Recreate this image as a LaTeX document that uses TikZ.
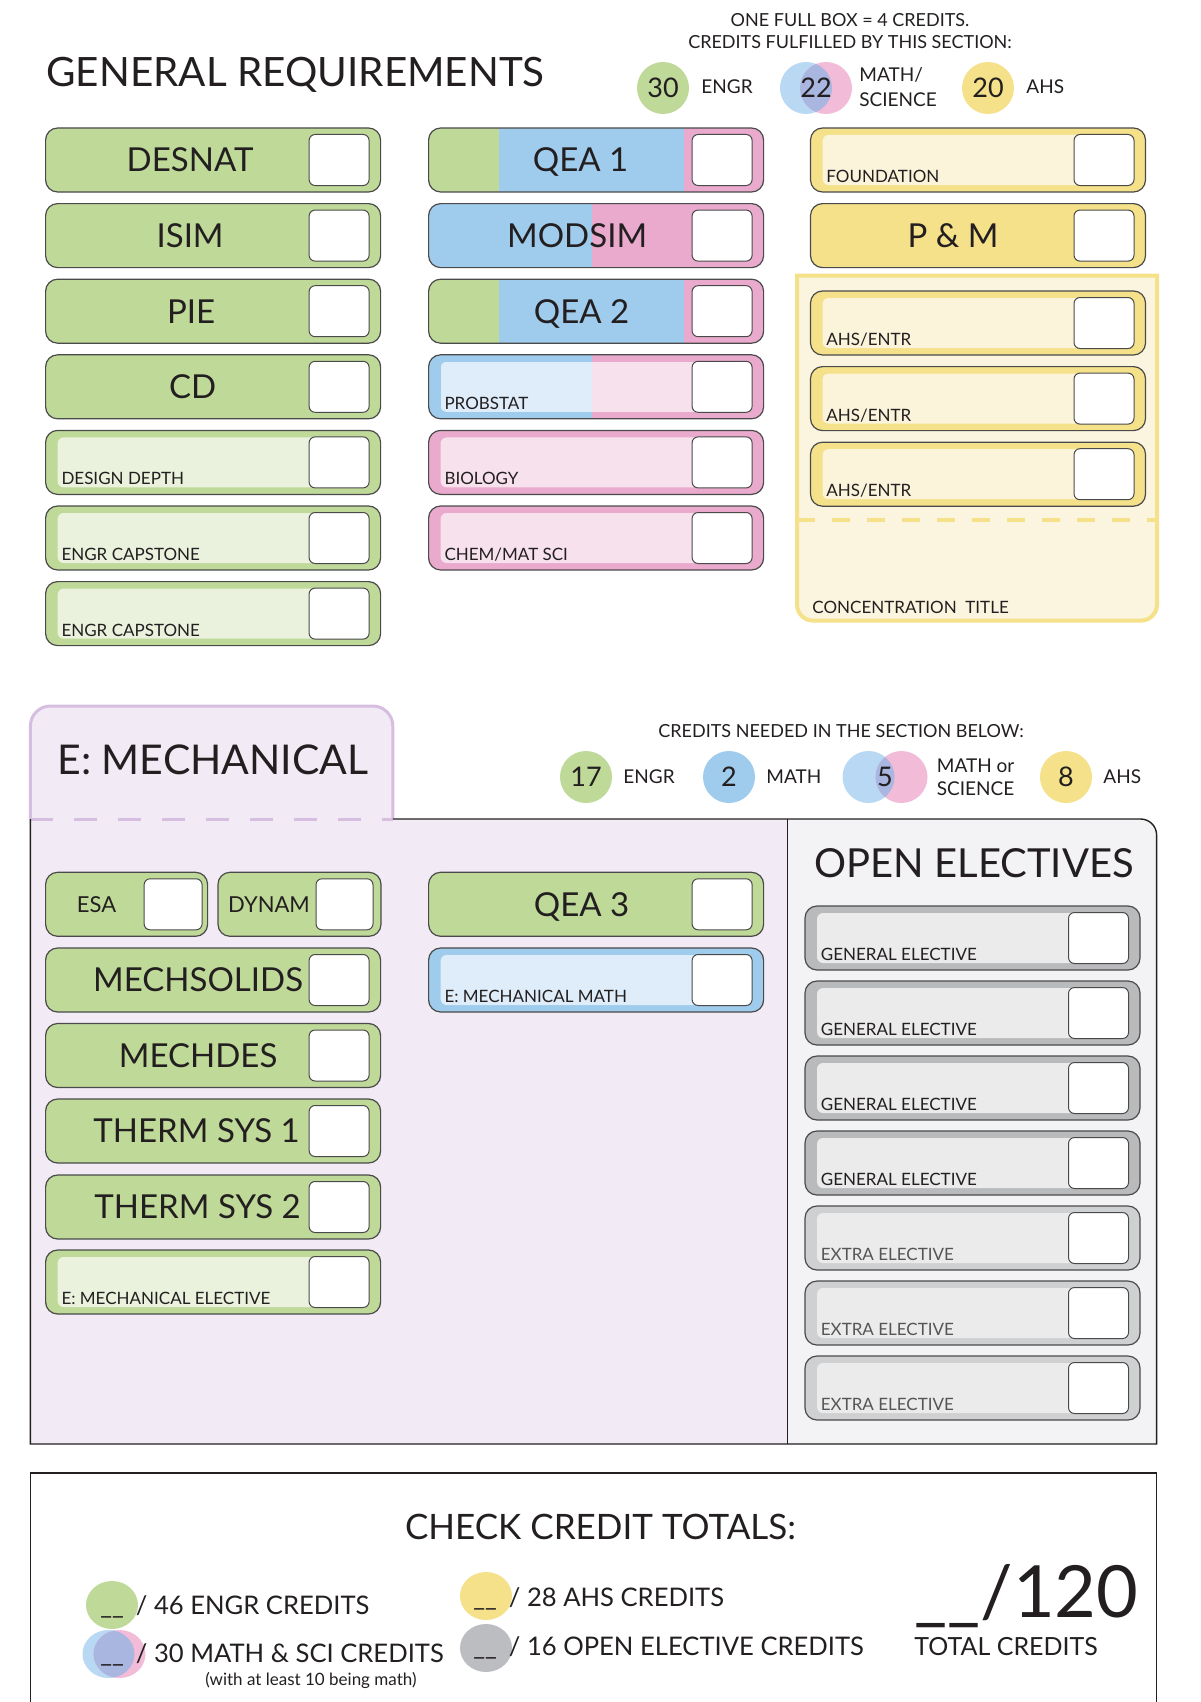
\documentclass[tikz,border=0pt]{standalone}
\usepackage{fontspec}
\setmainfont{Lato}

\definecolor{engr}{HTML}{BFD999}
\definecolor{engrlight}{HTML}{EAF2DE}
\definecolor{math}{HTML}{9FCBEC}
\definecolor{mathlight}{HTML}{DEEDF9}
\definecolor{sci}{HTML}{E9AACD}
\definecolor{scilight}{HTML}{F7E1ED}
\definecolor{ahs}{HTML}{F4E18A}
\definecolor{ahslight}{HTML}{FBF4DB}
\definecolor{conc}{HTML}{FBF5DF}
\definecolor{lav}{HTML}{F2EBF5}
\definecolor{lavline}{HTML}{D5BEDF}
\definecolor{oefill}{HTML}{F3F3F5}
\definecolor{gendark}{HTML}{B9BABC}
\definecolor{genlight}{HTML}{CFD0D2}
\definecolor{geninner}{HTML}{EBEBEC}
\definecolor{oegray}{HTML}{BCBDC0}
\definecolor{mathsoft}{HTML}{B8D8F3}
\definecolor{scisoft}{HTML}{F2BCD9}
\definecolor{venn}{HTML}{A9B6E0}
\definecolor{ink}{HTML}{231F20}
\definecolor{extratext}{HTML}{555555}
\definecolor{edge}{HTML}{4A4A4A}

\tikzset{
  courseline/.style={draw=edge, line width=0.6pt, rounded corners=6pt},
  tickbox/.style={draw=edge, line width=0.5pt, fill=white, rounded corners=3pt},
  biglabel/.style={text=ink, inner sep=0pt, text height=11.8pt, text depth=0pt,
    font=\fontsize{16.5}{18}\selectfont},
  midlabel/.style={text=ink, inner sep=0pt, text height=7.9pt, text depth=0pt,
    font=\fontsize{11}{12}\selectfont},
  smalllabel/.style={text=ink, inner sep=0pt, anchor=base west,
    font=\fontsize{8.5}{10}\selectfont},
  heading/.style={text=ink, inner sep=0pt, anchor=base west,
    font=\fontsize{20.5}{22}\selectfont},
  note/.style={text=ink, inner sep=0pt, anchor=base, font=\fontsize{9}{10}\selectfont},
  keytext/.style={text=ink, inner sep=0pt, anchor=base west, font=\fontsize{9.5}{11}\selectfont},
  badge/.style={circle, minimum size=26pt, inner sep=0pt, text=ink,
    font=\fontsize{13.5}{14}\selectfont},
  totals/.style={text=ink, inner sep=0pt, anchor=base west, font=\fontsize{12.8}{14}\selectfont},
  frame/.style={draw=ink, line width=0.7pt},
  concline/.style={draw=ahs, line width=2pt},
  tabline/.style={draw=lavline, line width=1.5pt},
}

% full colour course: [label x] name, x, y, colour, label
\newcommand{\solidcourse}[6][148]{%
  \begin{scope}[shift={(#3,#4)}]
    \draw[courseline, fill=#5] (0,0) rectangle (335,64);
    \draw[tickbox] (263.5,6.5) rectangle (323.5,57.5);
    \node[biglabel] (#2) at (#1,32) {#6};
  \end{scope}}

% ring course with pale inside: [text colour] name, x, y, ring, inside, label
\newcommand{\lightcourse}[7][ink]{%
  \begin{scope}[shift={(#3,#4)}]
    \draw[courseline, fill=#5] (0,0) rectangle (335,64);
    \fill[#6, rounded corners=3pt] (12,7) rectangle (323,57);
    \draw[tickbox] (263.5,6.5) rectangle (323.5,57.5);
    \node[smalllabel, text=#1] (#2) at (15.5,54.5) {#7};
  \end{scope}}

% course split in colour bands: [label x] name, x, y, bands, label
\newcommand{\bandcourse}[6][150]{%
  \begin{scope}[shift={(#3,#4)}]
    \begin{scope}
      \clip[rounded corners=6pt] (0,0) rectangle (335,64);
      \foreach \bcol/\bfrom/\bto in {#5}
        \fill[\bcol] (\bfrom,0) rectangle (\bto,64);
    \end{scope}
    \draw[courseline] (0,0) rectangle (335,64);
    \draw[tickbox] (263.5,6.5) rectangle (323.5,57.5);
    \node[biglabel] (#2) at (#1,32) {#6};
  \end{scope}}

\begin{document}
\begin{tikzpicture}[x=0.5pt, y=-0.5pt]
    \useasboundingbox (0,0) rectangle (1200,1702);
    \fill[white] (0,0) rectangle (1200,1702);

    % General requirements heading and credit key
    \node[heading, font=\fontsize{20.2}{22}\selectfont] (genreq) at (46,87) {GENERAL REQUIREMENTS};
    \node[note] (fullbox) at (850,27) {ONE FULL BOX = 4 CREDITS.};
    \node[note] (fulfilled) at (850,49) {CREDITS FULFILLED BY THIS SECTION:};

    \node[badge, fill=engr] (topengr) at (663,88) {30};
    \node[keytext] (topengrtxt) at (701,94) {ENGR};
    \fill[mathsoft] (806,88) circle (13pt);
    \fill[scisoft] (826,88) circle (13pt);
    \begin{scope}
      \clip (806,88) circle (13pt);
      \fill[venn] (826,88) circle (13pt);
    \end{scope}
    \node[badge] (topms) at (816,88) {22};
    \node[keytext] (topmathtxt) at (859,82) {MATH/};
    \node[keytext] (topscitxt) at (859,106) {SCIENCE};
    \node[badge, fill=ahs] (topahs) at (988,88) {20};
    \node[keytext] (topahstxt) at (1026,94) {AHS};

    % Column 1
    \solidcourse[144.5]{desnat}{45.6}{128}{engr}{DESNAT}
    \solidcourse[144.5]{isim}{45.6}{203.6}{engr}{ISIM}
    \solidcourse[145.5]{pie}{45.6}{279.2}{engr}{PIE}
    \solidcourse[147]{cd}{45.6}{354.8}{engr}{CD}
    \lightcourse{desdepth}{45.6}{430.4}{engr}{engrlight}{DESIGN DEPTH}
    \lightcourse{capone}{45.6}{506}{engr}{engrlight}{ENGR CAPSTONE}
    \lightcourse{captwo}{45.6}{581.6}{engr}{engrlight}{ENGR CAPSTONE}

    % Column 2
    \bandcourse[152]{qeaone}{428.6}{128}{engr/0/70.5, math/70.5/255, sci/255/335}{QEA 1}
    \bandcourse[148.5]{modsim}{428.6}{203.6}{math/0/163, sci/163/335}{MODSIM}
    \bandcourse[153]{qeatwo}{428.6}{279.2}{engr/0/70.5, math/70.5/255, sci/255/335}{QEA 2}
    \begin{scope}[shift={(428.6,354.8)}]
      \begin{scope}
        \clip[rounded corners=6pt] (0,0) rectangle (335,64);
        \fill[math] (0,0) rectangle (163,64);
        \fill[sci] (163,0) rectangle (335,64);
      \end{scope}
      \begin{scope}
        \clip[rounded corners=3pt] (12,7) rectangle (323,57);
        \fill[mathlight] (12,7) rectangle (163,57);
        \fill[scilight] (163,7) rectangle (323,57);
      \end{scope}
      \draw[courseline] (0,0) rectangle (335,64);
      \draw[tickbox] (263.5,6.5) rectangle (323.5,57.5);
      \node[smalllabel] (probstat) at (15.5,54.5) {PROBSTAT};
    \end{scope}
    \lightcourse{biology}{428.6}{430.4}{sci}{scilight}{BIOLOGY}
    \lightcourse{chemmat}{428.6}{506}{sci}{scilight}{CHEM/MAT SCI}

    % Column 3 with the concentration block
    \lightcourse{foundation}{810.5}{128}{ahs}{ahslight}{FOUNDATION}
    \solidcourse[142.5]{pandm}{810.5}{203.6}{ahs}{P \& M}
    \draw[concline, fill=conc] (1157,275.6) -- (797,275.6) [rounded corners=8pt]
      -- (797,620.6) -- (1157,620.6) [sharp corners] -- cycle;
    \draw[concline, dash pattern=on 9pt off 8.5pt] (797,520) -- (1157,520);
    \foreach \k in {0,1,2}
      \lightcourse{ahsentr\k}{810.5}{291+75.6*\k}{ahs}{ahslight}{AHS/ENTR};
    \node[smalllabel] (conctitle) at (812,613) {CONCENTRATION~~TITLE};

    % Mechanical section: tab, panels and frame
    \fill[lav] (30.4,819) rectangle (787.7,1444);
    \fill[oefill] (787.7,1444) -- (787.7,819) [rounded corners=8pt]
      -- (1156.6,819) [sharp corners] -- (1156.6,1444) -- cycle;
    \draw[tabline, fill=lav] (30.4,819) [rounded corners=10pt] -- (30.4,706)
      -- (392.8,706) [sharp corners] -- (392.8,819);
    \draw[tabline, dash pattern=on 11.5pt off 10.5pt] (30.4,819) -- (392.8,819);
    \draw[frame] (392.8,819) [rounded corners=8pt] -- (1156.6,819) [sharp corners]
      -- (1156.6,1444) -- (30.4,1444) -- (30.4,819);
    \draw[frame] (787.7,819) -- (787.7,1444);
    \node[heading] (mechtitle) at (57,774) {E: MECHANICAL};

    % Credits needed key
    \node[note] (needed) at (841,737) {CREDITS NEEDED IN THE SECTION BELOW:};
    \node[badge, fill=engr] (lowengr) at (586,777) {17};
    \node[keytext] (lowengrtxt) at (623,783) {ENGR};
    \node[badge, fill=math] (lowmath) at (729,777) {2};
    \node[keytext] (lowmathtxt) at (766,783) {MATH};
    \fill[mathsoft] (868.5,777) circle (13pt);
    \fill[scisoft] (901.5,777) circle (13pt);
    \begin{scope}
      \clip (868.5,777) circle (13pt);
      \fill[venn] (901.5,777) circle (13pt);
    \end{scope}
    \node[badge] (lowms) at (885,777) {5};
    \node[keytext] (lowmstxt) at (936.5,772) {MATH or};
    \node[keytext] (lowscitxt) at (936.5,795) {SCIENCE};
    \node[badge, fill=ahs] (lowahs) at (1066,777) {8};
    \node[keytext] (lowahstxt) at (1103,783) {AHS};

    % Mechanical courses
    \begin{scope}[shift={(45.6,872.3)}]
      \draw[courseline, fill=engr] (0,0) rectangle (162,64);
      \draw[tickbox] (98.5,6.5) rectangle (156.5,57.5);
      \node[midlabel] (esa) at (51,32) {ESA};
    \end{scope}
    \begin{scope}[shift={(218,872.3)}]
      \draw[courseline, fill=engr] (0,0) rectangle (163,64);
      \draw[tickbox] (98,6.5) rectangle (155,57.5);
      \node[midlabel] (dynam) at (51,32) {DYNAM};
    \end{scope}
    \solidcourse[152.5]{mechsolids}{45.6}{948}{engr}{MECHSOLIDS}
    \solidcourse[152.5]{mechdes}{45.6}{1023.5}{engr}{MECHDES}
    \solidcourse[151]{thermone}{45.6}{1099}{engr}{THERM SYS 1}
    \solidcourse[152]{thermtwo}{45.6}{1175}{engr}{THERM SYS 2}
    \lightcourse{mechelective}{45.6}{1250}{engr}{engrlight}{E: MECHANICAL ELECTIVE}
    \solidcourse[153]{qeathree}{428.6}{872.3}{engr}{QEA 3}
    \lightcourse{mechmath}{428.6}{948}{math}{mathlight}{E: MECHANICAL MATH}

    % Open electives
    \node[heading, font=\fontsize{20}{22}\selectfont] (oetitle) at (814,877) {OPEN ELECTIVES};
    \foreach \k in {0,...,3}
      \lightcourse{genelec\k}{805}{906+75*\k}{gendark}{geninner}{GENERAL ELECTIVE};
    \foreach \k in {4,5,6}
      \lightcourse[extratext]{extraelec\k}{805}{906+75*\k}{genlight}{geninner}{EXTRA ELECTIVE};

    % Credit totals
    \draw[frame] (30.4,1710) -- (30.4,1473) -- (1156.6,1473) -- (1156.6,1710);
    \node[heading, anchor=base, font=\fontsize{17.5}{20}\selectfont] (checktitle)
      at (600.5,1539) {CHECK CREDIT TOTALS:};
    \fill[engr] (112,1605) ellipse (13pt and 12pt);
    \fill[mathsoft] (108.5,1654) ellipse (13pt and 12pt);
    \fill[scisoft] (119.5,1654) ellipse (13pt and 12pt);
    \begin{scope}
      \clip (108.5,1654) ellipse (13pt and 12pt);
      \fill[venn] (119.5,1654) ellipse (13pt and 12pt);
    \end{scope}
    \fill[ahs] (486,1596) ellipse (13pt and 12pt);
    \fill[oegray] (486,1648) ellipse (13pt and 12pt);
    \node[totals] (engrsum) at (100,1614) {\_\_\hspace{6pt}/ 46 ENGR CREDITS};
    \node[totals] (mathsum) at (100,1662.5) {\_\_\hspace{6pt}/ 30 MATH \& SCI CREDITS};
    \node[totals, anchor=base, font=\fontsize{8.5}{9}\selectfont] (mathnote)
      at (311,1685) {(with at least 10 being math)};
    \node[totals] (ahssum) at (473,1606.5) {\_\_\hspace{6pt}/ 28 AHS CREDITS};
    \node[totals] (oesum) at (473,1655) {\_\_\hspace{6pt}/ 16 OPEN ELECTIVE CREDITS};
    \node[totals, font=\fontsize{36}{40}\selectfont] (grandsum) at (914,1617) {\_\_/120};
    \node[totals, font=\fontsize{12.5}{14}\selectfont] (grandtxt) at (914,1655) {TOTAL CREDITS};
\end{tikzpicture}
\end{document}
